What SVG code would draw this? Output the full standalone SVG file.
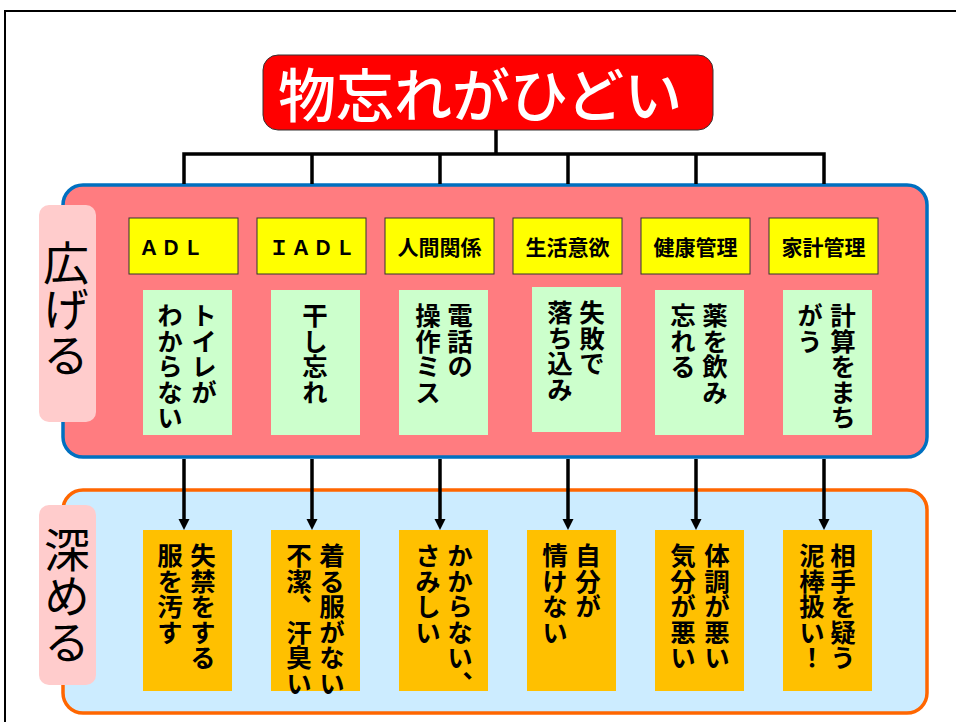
<svg xmlns="http://www.w3.org/2000/svg" width="956" height="722" viewBox="0 0 956 722">
<style>
.frame{fill:none;stroke:#000;stroke-width:2}
.band1{fill:#FF7C80;stroke:#0070C0;stroke-width:3.5}
.band2{fill:#CCECFF;stroke:#FF6600;stroke-width:3.5}
.lab{fill:#FFCCCC}
.labt{font-family:"Noto Sans CJK JP","Noto Sans",sans-serif;font-size:46px;fill:#000;writing-mode:vertical-rl;text-orientation:upright}
.cat{fill:#FFFF00;stroke:#333;stroke-width:1}
.catt{font-family:"Noto Sans CJK JP","Noto Sans",sans-serif;font-size:21px;font-weight:bold;fill:#000;text-anchor:middle}
.grn{fill:#CCFFCC}
.org{fill:#FFC000}
.vt{font-family:"Noto Sans CJK JP","Noto Sans",sans-serif;font-size:25.5px;font-weight:bold;fill:#000;writing-mode:vertical-rl;text-orientation:upright}
.ln{fill:none;stroke:#000;stroke-width:3.5}
</style>
<defs>
<marker id="ah" markerUnits="userSpaceOnUse" markerWidth="12" markerHeight="12" viewBox="0 0 12 12" refX="0" refY="6" orient="auto">
<path d="M0,0.5 L11,6 L0,11.5 z" fill="#000"/>
</marker>
</defs>
<rect class="frame" x="5" y="11" width="1000" height="800"/>

<g id="band-hirogeru">
<rect class="band1" x="63" y="185" width="864" height="272" rx="20"/>
<rect class="lab" x="39" y="205" width="57" height="217" rx="10"/>
<text class="labt" x="66" y="240">広げる</text>
</g>
<g id="band-fukameru">
<rect class="band2" x="63" y="490" width="864" height="223" rx="20"/>
<rect class="lab" x="39" y="505" width="57" height="180" rx="10"/>
<text class="labt" x="67" y="527">深める</text>
</g>

<g id="title">
<rect x="263" y="55" width="450" height="75" rx="15" fill="#FF0000" stroke="#333" stroke-width="1"/>
<text x="278" y="117" font-family="'Noto Sans CJK JP','Noto Sans',sans-serif" font-size="58" font-weight="500" fill="#fff">物忘れがひどい</text>
</g>

<g id="cat-adl">
<rect class="cat" x="129" y="218" width="109" height="56"/>
<text x="139" y="255" font-family="'Noto Sans CJK JP','Noto Sans',sans-serif" font-size="20" font-weight="bold" letter-spacing="2">ＡＤＬ</text>
</g>
<g id="cat-iadl">
<rect class="cat" x="257" y="218" width="109" height="56"/>
<text x="313" y="255" font-family="'Noto Sans CJK JP','Noto Sans',sans-serif" font-size="20" font-weight="bold" letter-spacing="2" text-anchor="middle">ＩＡＤＬ</text>
</g>
<g id="cat-ningen">
<rect class="cat" x="385" y="218" width="109" height="56"/>
<text class="catt" x="439.5" y="255">人間関係</text>
</g>
<g id="cat-seikatsu">
<rect class="cat" x="513" y="218" width="109" height="56"/>
<text class="catt" x="567.5" y="255">生活意欲</text>
</g>
<g id="cat-kenko">
<rect class="cat" x="641" y="218" width="109" height="56"/>
<text class="catt" x="695.5" y="255">健康管理</text>
</g>
<g id="cat-kakei">
<rect class="cat" x="769" y="218" width="109" height="56"/>
<text class="catt" x="823.5" y="255">家計管理</text>
</g>

<g id="g-adl">
<rect class="grn" x="143" y="290" width="89" height="145"/>
<text class="vt" x="204" y="303">トイレが</text>
<text class="vt" x="170" y="303">わからない</text>
</g>
<g id="g-iadl">
<rect class="grn" x="271" y="290" width="89" height="145"/>
<text class="vt" x="315" y="303">干し忘れ</text>
</g>
<g id="g-ningen">
<rect class="grn" x="399" y="290" width="89" height="145"/>
<text class="vt" x="460" y="303">電話の</text>
<text class="vt" x="428" y="303">操作ミス</text>
</g>
<g id="g-seikatsu">
<rect class="grn" x="532" y="287" width="89" height="145"/>
<text class="vt" x="592" y="300">失敗で</text>
<text class="vt" x="560" y="300">落ち込み</text>
</g>
<g id="g-kenko">
<rect class="grn" x="655" y="290" width="89" height="145"/>
<text class="vt" x="715" y="303">薬を飲み</text>
<text class="vt" x="683" y="303">忘れる</text>
</g>
<g id="g-kakei">
<rect class="grn" x="783" y="290" width="89" height="145"/>
<text class="vt" x="843" y="303">計算をまち</text>
<text class="vt" x="810" y="303">がう</text>
</g>

<g id="o-adl">
<rect class="org" x="143" y="530" width="89" height="161"/>
<text class="vt" x="203" y="543">失禁をする</text>
<text class="vt" x="170" y="543">服を汚す</text>
</g>
<g id="o-iadl">
<rect class="org" x="271" y="530" width="89" height="161"/>
<text class="vt" x="332" y="543">着る服がない</text>
<text class="vt" x="299" y="543">不潔、汗臭い</text>
</g>
<g id="o-ningen">
<rect class="org" x="399" y="530" width="89" height="161"/>
<text class="vt" x="460" y="543">かからない、</text>
<text class="vt" x="428" y="543">さみしい</text>
</g>
<g id="o-seikatsu">
<rect class="org" x="527" y="530" width="89" height="161"/>
<text class="vt" x="588" y="543">自分が</text>
<text class="vt" x="555" y="543">情けない</text>
</g>
<g id="o-kenko">
<rect class="org" x="655" y="530" width="89" height="161"/>
<text class="vt" x="717" y="543">体調が悪い</text>
<text class="vt" x="683" y="543">気分が悪い</text>
</g>
<g id="o-kakei">
<rect class="org" x="783" y="530" width="89" height="161"/>
<text class="vt" x="843" y="543">相手を疑う</text>
<text class="vt" x="812" y="543">泥棒扱い！</text>
</g>

<g id="connectors">
<line class="ln" x1="496" y1="130" x2="496" y2="154"/>
<path class="ln" d="M184,184 V154 H824 V184"/>
<line class="ln" x1="312" y1="154" x2="312" y2="184"/>
<line class="ln" x1="440" y1="154" x2="440" y2="184"/>
<line class="ln" x1="568" y1="154" x2="568" y2="184"/>
<line class="ln" x1="696" y1="154" x2="696" y2="184"/>
<line class="ln" x1="184" y1="459" x2="184" y2="519" marker-end="url(#ah)"/>
<line class="ln" x1="312" y1="459" x2="312" y2="519" marker-end="url(#ah)"/>
<line class="ln" x1="440" y1="459" x2="440" y2="519" marker-end="url(#ah)"/>
<line class="ln" x1="568" y1="459" x2="568" y2="519" marker-end="url(#ah)"/>
<line class="ln" x1="696" y1="459" x2="696" y2="519" marker-end="url(#ah)"/>
<line class="ln" x1="824" y1="459" x2="824" y2="519" marker-end="url(#ah)"/>
</g>
</svg>
